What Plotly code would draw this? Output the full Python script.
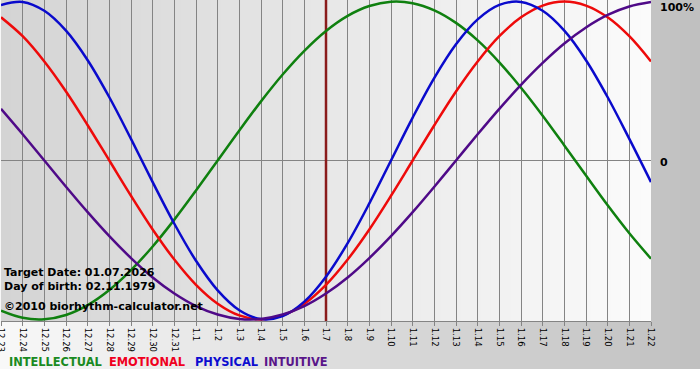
import plotly.graph_objects as go

# ---------------- data ----------------
dates = ["12.23", "12.24", "12.25", "12.26", "12.27", "12.28", "12.29", "12.30", "12.31",
         "1.1", "1.2", "1.3", "1.4", "1.5", "1.6", "1.7", "1.8", "1.9", "1.10", "1.11",
         "1.12", "1.13", "1.14", "1.15", "1.16", "1.17", "1.18", "1.19", "1.20", "1.21", "1.22"]

physical = [0.979, 0.998, 0.942, 0.817, 0.631, 0.398, 0.136, -0.136, -0.398, -0.631,
            -0.817, -0.942, -0.998, -0.979, -0.888, -0.731, -0.520, -0.270, 0.0, 0.270,
            0.520, 0.731, 0.888, 0.979, 0.998, 0.942, 0.817, 0.631, 0.398, 0.136, -0.136]

emotional = [0.901, 0.782, 0.623, 0.434, 0.222, 0.0, -0.222, -0.434, -0.623, -0.782,
             -0.901, -0.975, -1.0, -0.975, -0.901, -0.782, -0.623, -0.434, -0.222, 0.0,
             0.222, 0.434, 0.623, 0.782, 0.901, 0.975, 1.0, 0.975, 0.901, 0.782, 0.623]

intellectual = [-0.945, -0.990, -0.999, -0.972, -0.910, -0.815, -0.690, -0.541, -0.372, -0.189,
                0.0, 0.189, 0.372, 0.541, 0.690, 0.815, 0.910, 0.972, 0.999, 0.990,
                0.945, 0.866, 0.756, 0.618, 0.458, 0.282, 0.095, -0.095, -0.282, -0.458, -0.618]

intuitive = [0.325, 0.165, 0.0, -0.165, -0.325, -0.476, -0.614, -0.736, -0.837, -0.916,
             -0.969, -0.997, -0.997, -0.969, -0.916, -0.837, -0.736, -0.614, -0.476, -0.325,
             -0.165, 0.0, 0.165, 0.325, 0.476, 0.614, 0.736, 0.837, 0.916, 0.969, 0.997]

target_index = 15
y_labels = ["100%", "0", "-100%"]
info_lines = ["Target Date: 01.07.2026", "Day of birth: 02.11.1979", "©2010 biorhythm-calculator.net"]
legend_names = ["INTELLECTUAL", "EMOTIONAL", "PHYSICAL", "INTUITIVE"]

# ---------------- styling ----------------
W, H = 700, 380
L, R, T, B = 1, 49, 0, 59
PW, PH = W - L - R, H - T - B
FONT = "DejaVu Sans"

line_colors = {"INTELLECTUAL": "#0f800f", "EMOTIONAL": "#ee0a0a",
               "PHYSICAL": "#0a0acc", "INTUITIVE": "#4f0a88"}
legend_colors = {"INTELLECTUAL": "#1a8a22", "EMOTIONAL": "#f0001e",
                 "PHYSICAL": "#0c0cd0", "INTUITIVE": "#5a168a"}


def px_to_paper_x(px):
    return (px - L) / PW


def px_to_paper_y(py):
    return (H - B - py) / PH


x = list(range(len(dates)))
fig = go.Figure()

# target-date marker line (below the curves)
fig.add_trace(go.Scatter(x=[x[target_index], x[target_index]], y=[-1.01, 1.01], mode="lines",
                         line=dict(color="#8a1c1c", width=2.5), hoverinfo="skip", showlegend=False))

series = [("INTELLECTUAL", intellectual), ("EMOTIONAL", emotional),
          ("PHYSICAL", physical), ("INTUITIVE", intuitive)]
for name, vals in series:
    fig.add_trace(go.Scatter(x=x, y=vals, mode="lines", name=name,
                             line=dict(color=line_colors[name], width=2.5, shape="spline", smoothing=1.0),
                             showlegend=False))

shapes = []
# outer (paper) gradient: light at left to grey at right, down to y=369
step = 10
for px in range(0, W, step):
    g = int(round(248 - (px + step / 2) / W * 56))
    shapes.append(dict(type="rect", xref="paper", yref="paper",
                       x0=px_to_paper_x(px), x1=px_to_paper_x(px + step + 1),
                       y0=px_to_paper_y(369), y1=px_to_paper_y(0),
                       fillcolor=f"rgb({g},{g},{g})", line=dict(width=0), layer="below"))
# plot-area gradient: grey at left to near white at right
for px in range(L, L + PW, step):
    g = int(round(212 + (px - L + step / 2) / PW * 39))
    shapes.append(dict(type="rect", xref="paper", yref="paper",
                       x0=px_to_paper_x(px), x1=min(1.0, px_to_paper_x(px + step + 1)),
                       y0=0, y1=1,
                       fillcolor=f"rgb({g},{g},{g})", line=dict(width=0), layer="below"))

annotations = []
# right-hand percentage labels
for txt, yv in zip(y_labels, [0.965, -0.01, -1.016]):
    annotations.append(dict(text=f"<b>{txt}</b>", xref="paper", yref="y", x=px_to_paper_x(658), y=yv,
                            xanchor="left", yanchor="middle", showarrow=False,
                            font=dict(family=FONT, size=11, color="#000000")))
# info text lines
for txt, py in zip(info_lines, [272.5, 286.5, 306.5]):
    annotations.append(dict(text=f"<b>{txt}</b>", xref="paper", yref="paper", x=px_to_paper_x(2),
                            y=px_to_paper_y(py), xanchor="left", yanchor="middle", showarrow=False,
                            font=dict(family=FONT, size=11, color="#000000")))
# colour legend
for name, px in zip(legend_names, [7, 107, 193, 262]):
    annotations.append(dict(text=f"<b>{name}</b>", xref="paper", yref="paper", x=px_to_paper_x(px),
                            y=px_to_paper_y(362), xanchor="left", yanchor="middle", showarrow=False,
                            font=dict(family=FONT, size=11.4, color=legend_colors[name])))

fig.update_layout(
    width=W, height=H, margin=dict(l=L, r=R, t=T, b=B, autoexpand=False),
    paper_bgcolor="#ffffff", plot_bgcolor="rgba(0,0,0,0)",
    template="none", showlegend=False,
    shapes=shapes, annotations=annotations,
    font=dict(family=FONT, color="#000000"),
)
fig.update_xaxes(range=[0, len(dates) - 1], tickmode="array", tickvals=x, ticktext=dates,
                 tickangle=90, tickfont=dict(family=FONT, size=8.5, color="#000000"),
                 ticklabeloverflow="allow",
                 showgrid=True, gridcolor="#848484", gridwidth=1,
                 showline=True, linecolor="#848484", linewidth=1,
                 ticks="outside", ticklen=4, tickcolor="#848484",
                 zeroline=False, automargin=False, fixedrange=True)
fig.update_yaxes(range=[-1.01, 1.01], showgrid=False, showticklabels=False, ticks="",
                 zeroline=True, zerolinecolor="#848484", zerolinewidth=1,
                 showline=False, automargin=False, fixedrange=True)

fig.write_html("out.html", config={"displayModeBar": False},
               post_script="document.body.style.margin='0';document.body.style.overflow='hidden';")
